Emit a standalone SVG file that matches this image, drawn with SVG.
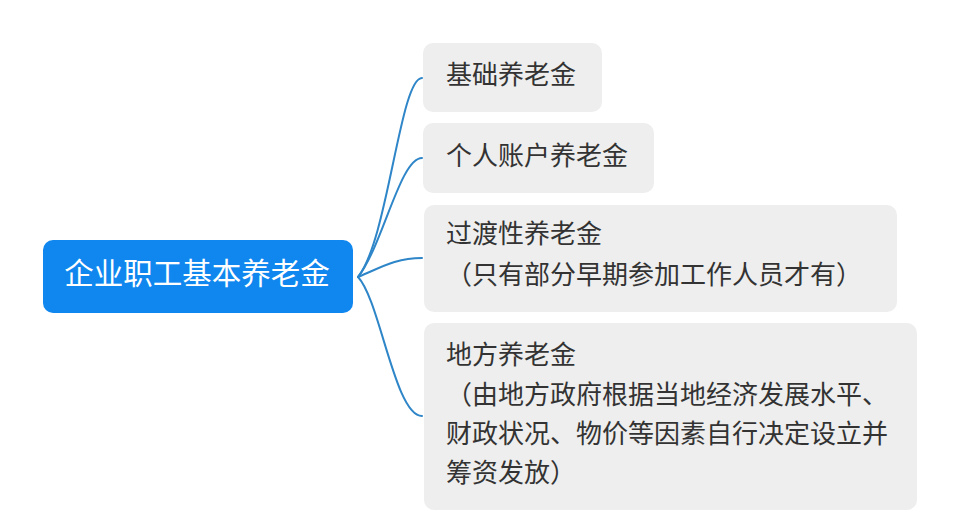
<svg xmlns="http://www.w3.org/2000/svg" width="960" height="532" viewBox="0 0 960 532">
<style>
.bg{fill:#ffffff}
.root{fill:#0f87ef}
.box{fill:#eeeeee}
.rt{font-family:"Noto Sans CJK SC","Noto Sans",sans-serif;font-size:29.5px;fill:#ffffff;text-anchor:middle}
.t{font-family:"Noto Sans CJK SC","Noto Sans",sans-serif;font-size:26px;fill:#333333}
.c{fill:none;stroke:#2e86c8;stroke-width:2;stroke-linecap:round}
</style>
<rect class="bg" x="0" y="0" width="960" height="532"/>
<g id="connectors">
<path class="c" d="M358,277 C388,240 400,78 422,78"/>
<path class="c" d="M358,277 C383,245 400,158 422,158"/>
<path class="c" d="M358,277 C380,268 395,258 422,258"/>
<path class="c" d="M358,277 C380,300 395,416 422,416"/>
</g>
<g id="root">
<rect class="root" x="43" y="240" width="310" height="73" rx="10"/>
<text class="rt" x="197" y="284">企业职工基本养老金</text>
</g>
<g id="n1">
<rect class="box" x="423" y="43" width="179" height="69" rx="10"/>
<text class="t" x="446" y="84">基础养老金</text>
</g>
<g id="n2">
<rect class="box" x="423" y="123" width="231" height="70" rx="10"/>
<text class="t" x="446" y="165">个人账户养老金</text>
</g>
<g id="n3">
<rect class="box" x="424" y="205" width="473" height="107" rx="10"/>
<text class="t" x="446" y="243">过渡性养老金</text>
<text class="t" x="446" y="284">（只有部分早期参加工作人员才有）</text>
</g>
<g id="n4">
<rect class="box" x="424" y="323" width="493" height="187" rx="10"/>
<text class="t" x="446" y="364">地方养老金</text>
<text class="t" x="446" y="404">（由地方政府根据当地经济发展水平、</text>
<text class="t" x="446" y="443">财政状况、物价等因素自行决定设立并</text>
<text class="t" x="446" y="482">筹资发放）</text>
</g>
</svg>
